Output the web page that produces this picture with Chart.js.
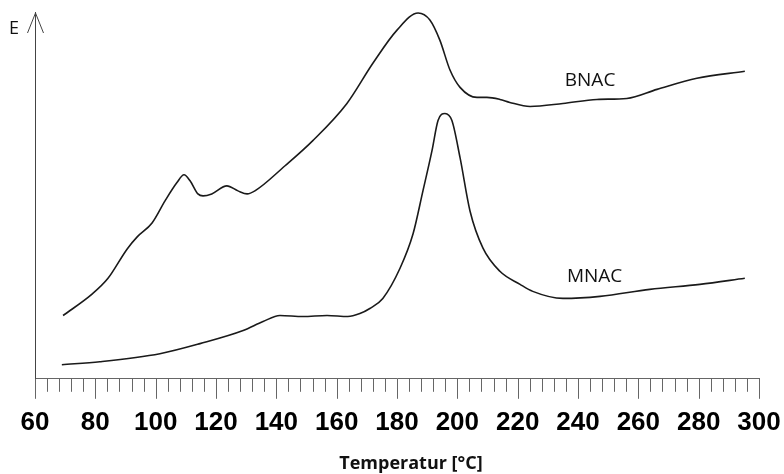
<!DOCTYPE html>
<html>
<head>
<meta charset="utf-8">
<script src="https://cdn.jsdelivr.net/npm/chart.js@4"></script>
<style>
  html, body { margin: 0; padding: 0; background: #fff; }
  #wrap { width: 784px; height: 474px; }
</style>
</head>
<body>
<div id="wrap"><canvas id="chartDSC" width="784" height="474"></canvas></div>
<script>
// ---------- dados ----------
const tempBNAC = [69.3, 78.8, 84.2, 90.5, 93.8, 98.8, 103.1, 107, 109.4, 111.4, 114, 115.7, 118.6, 123.6, 127.3, 130.3, 132.9, 142.9, 152.1, 163.4, 172, 180, 187, 190.9, 194.2, 197.6, 200.9, 206.5, 209.8, 214.1, 217.4, 224.1, 235, 246.3, 256.2, 266.2, 279.4, 295.3];
const eBNAC    = [63, 84, 100, 129, 141, 155, 177, 195, 203, 197, 184, 182, 184, 192, 187, 184, 187, 212, 237, 274, 314, 347, 364, 357, 337, 307, 290, 280, 280, 278, 275, 271, 274, 278, 279, 288, 299, 306];

const tempMNAC = [68.9, 81.5, 101.4, 114.7, 129, 135.6, 141.2, 148.8, 156.8, 163.7, 167.7, 171, 175.3, 181, 185.3, 188.6, 191.6, 193.6, 195.9, 198.2, 200.9, 204.2, 208.5, 214.1, 220.8, 225, 235, 247.3, 263.8, 280.4, 295.3];
const eMNAC    = [14, 17, 25, 35, 48, 57, 63, 62, 63, 62, 65, 70, 80, 110, 144, 187, 227, 257, 264, 257, 220, 167, 130, 107, 94, 87, 80, 82, 89, 94, 100];

const xMin = 60, xMax = 300, xMajor = 20, xMinor = 4;
const yMin = 0, yMax = 365;

const seriesNames = ['BNAC', 'MNAC'];
const axisTitle = 'Temperatur [°C]';
const yTitle = 'E';

const toXY = (xs, ys) => xs.map((x, i) => ({ x, y: ys[i] }));

// ---------- plugin: ticks (maiores e menores), seta, rótulos ----------
const extras = {
    id: 'extras',
    afterDraw(chart) {
        const { ctx, scales: { x, y } } = chart;
        const base = y.getPixelForValue(yMin);
        ctx.save();
        ctx.strokeStyle = '#666';
        ctx.lineWidth = 1;
        for (let v = xMin; v <= xMax; v += xMinor) {
            const len = (v % xMajor === 0) ? 20 : 13;
            const px = Math.round(x.getPixelForValue(v)) + 0.5;
            ctx.beginPath();
            ctx.moveTo(px, base);
            ctx.lineTo(px, base + len);
            ctx.stroke();
        }
        // seta do eixo E
        const ax = Math.round(x.getPixelForValue(xMin)) + 0.5;
        const top = y.getPixelForValue(yMax);
        ctx.strokeStyle = '#444';
        ctx.beginPath();
        ctx.moveTo(ax - 8, top + 21);
        ctx.lineTo(ax, top + 1);
        ctx.lineTo(ax + 8, top + 21);
        ctx.stroke();

        ctx.fillStyle = '#111';
        ctx.textAlign = 'center';
        ctx.textBaseline = 'middle';
        ctx.font = '18px "Open Sans"';
        ctx.fillText(yTitle, 14, 29);
        ctx.font = '19px "Open Sans"';
        ctx.fillText(seriesNames[0], x.getPixelForValue(244), 81);
        ctx.fillText(seriesNames[1], x.getPixelForValue(245.5), 277);
        ctx.font = 'bold 18px "Open Sans"';
        ctx.fillText(axisTitle, 411, 464);
        ctx.restore();
    }
};

const lineStyle = {
    borderColor: '#1a1a1a',
    borderWidth: 1.6,
    pointRadius: 0,
    fill: false,
    cubicInterpolationMode: 'monotone'
};

new Chart(document.getElementById('chartDSC').getContext('2d'), {
    type: 'line',
    data: {
        datasets: [
            { label: seriesNames[0], data: toXY(tempBNAC, eBNAC), ...lineStyle },
            { label: seriesNames[1], data: toXY(tempMNAC, eMNAC), ...lineStyle }
        ]
    },
    options: {
        responsive: false,
        animation: false,
        layout: { padding: { left: 35, right: 25, top: 12, bottom: 36 } },
        plugins: { legend: { display: false }, tooltip: { enabled: false } },
        scales: {
            x: {
                type: 'linear',
                min: xMin,
                max: xMax,
                border: { color: '#666', width: 1 },
                grid: {
                    drawOnChartArea: false,
                    tickLength: 28,
                    color: 'rgba(0,0,0,0)'
                },
                ticks: {
                    stepSize: xMinor,
                    autoSkip: false,
                    maxRotation: 0,
                    padding: 0,
                    color: '#000',
                    font: { family: '"Liberation Sans", Arial', size: 26, weight: 'bold' },
                    callback: v => (v % xMajor === 0) ? String(v) : ''
                }
            },
            y: {
                min: yMin,
                max: yMax,
                border: { color: '#444', width: 1 },
                grid: { display: false },
                ticks: { display: false },
                afterFit: s => { s.width = 0; }
            }
        }
    },
    plugins: [extras]
});
</script>
</body>
</html>
